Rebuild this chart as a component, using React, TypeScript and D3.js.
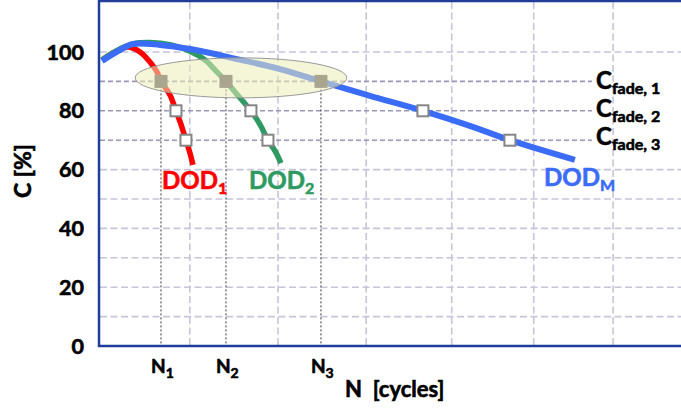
import React from "react";
import * as d3 from "d3";

// ---- data (x in arbitrary cycle units, y in % capacity) ----
const yTicks = [0, 20, 40, 60, 80, 100];
const yGrid = [10, 20, 30, 40, 50, 60, 70, 80, 90, 100];
const xGrid = [1.03, 2.03, 3.03, 4.0, 4.93, 5.83];
const fadeLevels = [90, 80, 70];
const fadeLabels = ["fade, 1", "fade, 2", "fade, 3"];

const dod1: [number, number][] = [
  [0.034, 97.3], [0.181, 100.0], [0.329, 101.7], [0.465, 100.0], [0.578, 96.6],
  [0.658, 93.2], [0.703, 90], [0.805, 85.4], [0.873, 80], [0.93, 75.4],
  [0.986, 70], [1.032, 65.6], [1.066, 61.6],
];
const dod2: [number, number][] = [
  [0.034, 97.3], [0.215, 100.7], [0.408, 102.9], [0.578, 103.2], [0.805, 102.5],
  [1.032, 100.3], [1.202, 97.3], [1.315, 93.9], [1.44, 90], [1.576, 85.2],
  [1.723, 80], [1.825, 75.4], [1.916, 70], [2.007, 65.8], [2.063, 62.2],
];
const dodM: [number, number][] = [
  [0.034, 96.9], [0.215, 100.3], [0.385, 102.7], [0.692, 102.4], [1.032, 101.0],
  [1.565, 97.6], [2.052, 94.2], [2.517, 90], [3.073, 85.1], [3.673, 80],
  [4.206, 74.9], [4.66, 70], [5.397, 63.3],
];
// fade points: [x, level]
const fade1Pts: [number, number][] = [[0.703, 90], [0.873, 80], [0.986, 70]];
const fade2Pts: [number, number][] = [[1.44, 90], [1.723, 80], [1.916, 70]];
const fadeMPts: [number, number][] = [[2.517, 90], [3.673, 80], [4.66, 70]];
const nPoints = [0.703, 1.44, 2.517];
const nLabels = ["1", "2", "3"];

const W = 681;
const H = 412;
const FONT = "Lato, 'Open Sans', sans-serif";

export default function App() {
  const x = d3.scaleLinear().domain([0, 6.6]).range([99, 681]);
  const y = d3.scaleLinear().domain([0, 100]).range([346, 52]);
  const line = d3
    .line<[number, number]>()
    .x((d) => x(d[0]))
    .y((d) => y(d[1]))
    .curve(d3.curveCatmullRom.alpha(0.5));

  const gridColor = "#c6c5db";
  const fadeLineColor = "#9998b8";
  const axisColor = "#1f3d99";
  const red = "#ff0000";
  const green = "#2e9a62";
  const blue = "#3b6cf8";

  const lineEnd = 592;
  const thick = { strokeWidth: 0.6, paintOrder: "stroke" as const };

  return (
    <svg
      width={W}
      height={H}
      style={{ position: "absolute", left: 0, top: 0, background: "#fff" }}
      fontFamily={FONT}
      fontWeight={700}
    >
      {/* grid */}
      {xGrid.map((g, i) => (
        <line key={"vx" + i} x1={x(g)} x2={x(g)} y1={2} y2={346}
          stroke={gridColor} strokeWidth={1.6} strokeDasharray="7,3.5" />
      ))}
      {yGrid.map((g, i) => {
        const isFade = fadeLevels.includes(g);
        return (
          <line key={"hy" + i} x1={100} x2={isFade ? lineEnd : W} y1={y(g)} y2={y(g)}
            stroke={isFade ? fadeLineColor : gridColor} strokeWidth={1.6}
            strokeDasharray={isFade ? "5,3" : "7,3.5"} />
        );
      })}

      {/* N dotted drop lines */}
      {nPoints.map((n, i) => (
        <line key={"nd" + i} x1={x(n)} x2={x(n)} y1={y(90)} y2={346}
          stroke="#333" strokeWidth={1} strokeDasharray="2,2" />
      ))}

      {/* curves */}
      <path d={line(dod1) || ""} fill="none" stroke={red} strokeWidth={5.5} />
      <path d={line(dod2) || ""} fill="none" stroke={green} strokeWidth={5.5} />
      <path d={line(dodM) || ""} fill="none" stroke={blue} strokeWidth={6} />

      {/* highlight ellipse */}
      <ellipse cx={x(1.61)} cy={y(91.2)} rx={x(1.61 + 1.2) - x(1.61)} ry={y(91.2) - y(98)}
        fill="#ececb8" fillOpacity={0.55} stroke="#999" strokeWidth={1} />

      {/* fade markers */}
      {[fade1Pts, fade2Pts, fadeMPts].map((pts, k) =>
        pts.map((p, i) =>
          i === 0 ? (
            <rect key={"m" + k + i} x={x(p[0]) - 6.5} y={y(p[1]) - 6.5} width={13} height={13}
              fill="#aaa58e" />
          ) : (
            <rect key={"m" + k + i} x={x(p[0]) - 5.5} y={y(p[1]) - 5.5} width={11} height={11}
              fill="#fff" stroke="#858585" strokeWidth={2} />
          )
        )
      )}

      {/* axes frame */}
      <line x1={99} x2={99} y1={0} y2={347} stroke={axisColor} strokeWidth={2.5} />
      <line x1={98} x2={W} y1={346} y2={346} stroke={axisColor} strokeWidth={2.5} />
      <line x1={98} x2={W} y1={1} y2={1} stroke={axisColor} strokeWidth={2.5} />

      {/* y ticks */}
      {yTicks.map((t) => (
        <text key={"yt" + t} x={84} y={y(t) + 7.5} textAnchor="end" fontSize={21.5}
          fill="#000" stroke="#000" {...thick}>
          {t}
        </text>
      ))}
      <text transform={`translate(31,171) rotate(-90)`} textAnchor="middle" fontSize={23}
        fill="#000" stroke="#000" {...thick}>
        C [%]
      </text>

      {/* N labels */}
      {nPoints.map((n, i) => (
        <text key={"nl" + i} x={x(n) - 10} y={373} fontSize={19} fill="#000" stroke="#000" {...thick}>
          N<tspan dy={5} fontSize={14}>{nLabels[i]}</tspan>
        </text>
      ))}
      <text x={345} y={397} fontSize={22} fill="#000" stroke="#000" {...thick}>
        {"N\u00a0\u00a0[cycles]"}
      </text>

      {/* DOD labels */}
      <text x={162} y={189} fontSize={24} fill={red} stroke={red} {...thick}>
        DOD<tspan dy={5} fontSize={16}>1</tspan>
      </text>
      <text x={249} y={189} fontSize={24} fill={green} stroke={green} {...thick}>
        DOD<tspan dy={5} fontSize={16}>2</tspan>
      </text>
      <text x={544} y={186} fontSize={24} fill={blue} stroke={blue} {...thick}>
        DOD<tspan dy={5} fontSize={16}>M</tspan>
      </text>

      {/* C fade labels */}
      {fadeLevels.map((lv, i) => (
        <text key={"cf" + i} x={596} y={[89, 117, 145][i]} fontSize={24} fill="#000" stroke="#000" {...thick}>
          C<tspan dy={5} fontSize={16}>{fadeLabels[i]}</tspan>
        </text>
      ))}
    </svg>
  );
}
